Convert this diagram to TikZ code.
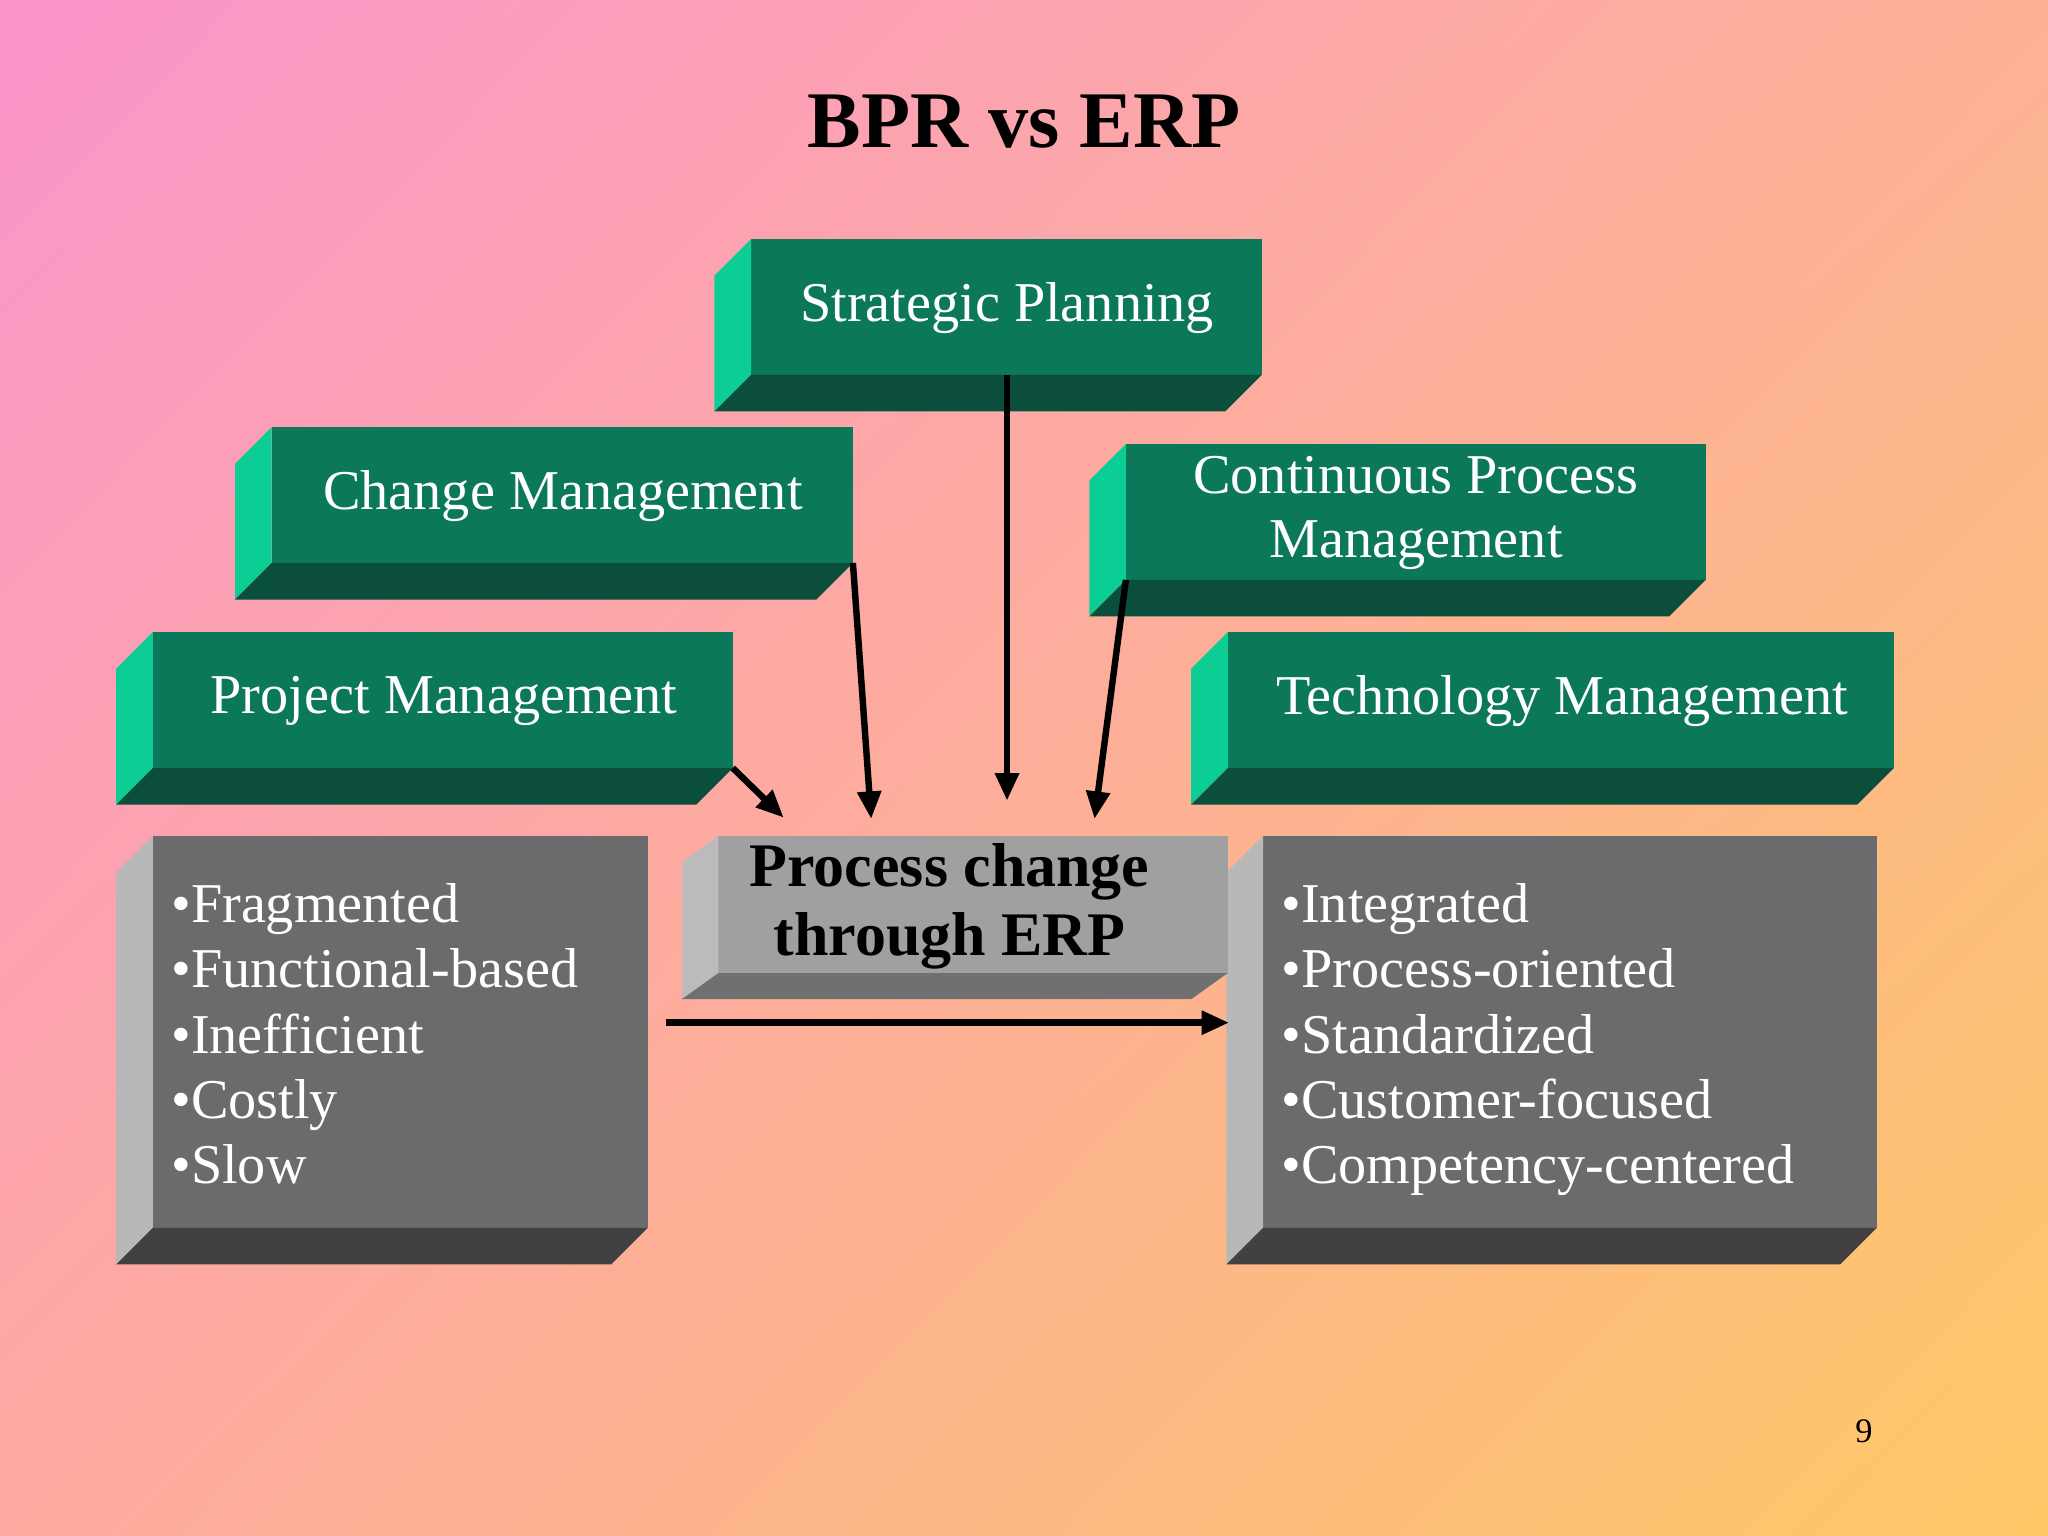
\documentclass[tikz,border=0pt]{standalone}
\usepackage{fontspec}
\setmainfont{Liberation Serif}
\usetikzlibrary{arrows.meta,shadings}
\definecolor{gfront}{HTML}{0B785A}
\definecolor{gside}{HTML}{0CCE95}
\definecolor{gbot}{HTML}{0A4E3B}
\definecolor{kfront}{HTML}{6B6A6C}
\definecolor{kside}{HTML}{B8B8B8}
\definecolor{kbot}{HTML}{414042}
\definecolor{mfront}{HTML}{A0A0A0}
\definecolor{mside}{HTML}{BBBBBB}
\definecolor{mbot}{HTML}{707070}
\definecolor{bgul}{RGB}{251,148,203}
\definecolor{bgur}{RGB}{253,178,150}
\definecolor{bgll}{RGB}{253,170,160}
\definecolor{bglr}{RGB}{254,200,102}
\tikzset{
  arr/.style={line width=2.8pt,-{Triangle[length=12pt,width=10pt]}},
  lbl/.style={text=white,font=\fontsize{24.5pt}{28pt}\selectfont,align=center},
  lst/.style={text=white,font=\fontsize{24.5pt}{28.5pt}\selectfont,align=left,anchor=north west},
}
% name, x1, y1, x2, y2, color prefix, depth x, depth y
\newcommand\bevbox[8]{%
  \fill[#6front] (#2,#3) rectangle (#4,#5);
  \fill[#6side] (#2-#7,#3+#8) -- (#2,#3) -- (#2,#5) -- (#2-#7,#5+#8) -- cycle;
  \fill[#6bot] (#2-#7,#5+#8) -- (#2,#5) -- (#4,#5) -- (#4-#7,#5+#8) -- cycle;
  \coordinate (#1) at ({(#2+#4)/2},{(#3+#5)/2});
}
\begin{document}
\begin{tikzpicture}[x=0.02cm,y=-0.02cm]
\shade[upper left=bgul,upper right=bgur,lower left=bgll,lower right=bglr]
  (0,0) rectangle (1568,1176);
\useasboundingbox (0,0) rectangle (1568,1176);

\node (title) [font=\bfseries\fontsize{35pt}{40pt}\selectfont] at (784,93) {BPR vs ERP};

\bevbox{sp}{575}{183}{966}{287}{g}{28}{28}
\bevbox{cm}{208}{327}{653}{431}{g}{28}{28}
\bevbox{cp}{862}{340}{1306}{444}{g}{28}{28}
\bevbox{pm}{117}{484}{561}{588}{g}{28}{28}
\bevbox{tm}{940}{484}{1450}{588}{g}{28}{28}
\bevbox{lb}{117}{640}{496}{940}{k}{28}{28}
\bevbox{rb}{967}{640}{1437}{940}{k}{28}{28}
\bevbox{mb}{550}{640}{940}{745}{m}{28}{20}

\node[lbl] at (771,236) {Strategic Planning};
\node[lbl] at (431,380) {Change Management};
\node[lbl] at (1084,393) {Continuous Process\\Management};
\node[lbl] at (340,537) {Project Management};
\node[lbl] at (1196,537) {Technology Management};
\node[font=\bfseries\fontsize{27pt}{30pt}\selectfont,align=center] (mt) at (727,694) {Process change\\through ERP};

\node[lst] (ll) at (125,670) {•Fragmented\\•Functional-based\\•Inefficient\\•Costly\\•Slow};
\node[lst] (rl) at (975,670) {•Integrated\\•Process-oriented\\•Standardized\\•Customer-focused\\•Competency-centered};

\node[font=\fontsize{15pt}{18pt}\selectfont] (pg) at (1427,1096) {9};

\coordinate (a1s) at (561,588); \coordinate (a1e) at (600,626);
\coordinate (a2s) at (653,431); \coordinate (a2e) at (667,627);
\coordinate (a3s) at (771,287); \coordinate (a3e) at (771,613);
\coordinate (a4s) at (862,444); \coordinate (a4e) at (838,627);
\coordinate (a5s) at (510,783); \coordinate (a5e) at (941,783);
\draw[arr] (a1s) -- (a1e);
\draw[arr] (a2s) -- (a2e);
\draw[arr] (a3s) -- (a3e);
\draw[arr] (a4s) -- (a4e);
\draw[arr] (a5s) -- (a5e);
\end{tikzpicture}
\end{document}
